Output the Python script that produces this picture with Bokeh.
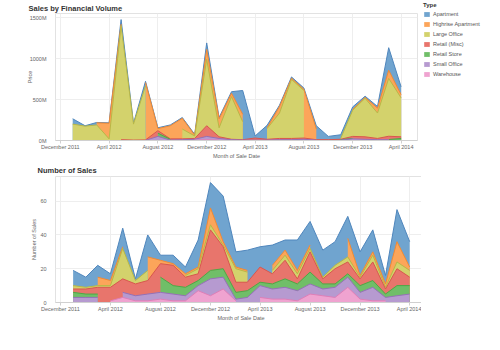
import numpy as np
import pandas as pd
from bokeh.plotting import figure
from bokeh.models import (FixedTicker, DatetimeTickFormatter, Legend, LegendItem,
                          Range1d, ColumnDataSource)
from bokeh.layouts import column, row
from bokeh.embed import file_html
from bokeh.resources import INLINE

# ---------------- data ----------------
months = ["2012-01", "2012-02", "2012-03", "2012-04", "2012-05", "2012-06", "2012-07",
          "2012-08", "2012-09", "2012-10", "2012-11", "2012-12", "2013-01", "2013-02",
          "2013-03", "2013-04", "2013-05", "2013-06", "2013-07", "2013-08", "2013-09",
          "2013-10", "2013-11", "2013-12", "2014-01", "2014-02", "2014-03", "2014-04"]

types = ["Apartment", "Highrise Apartment", "Large Office", "Retail (Misc)",
         "Retail Store", "Small Office", "Warehouse"]

# Sales by financial volume (price, millions); None = no sales that month
price_apartment = [65, 5, 5, 5, 55, 10, 15, 10, 10, 10, 10, 80, 15, 20, 290, 25, 30, 15, 15, 15,
                   40, 40, 45, 30, 15, 20, 275, 95]
price_highrise = [None, None, 25, 190, 20, None, 40, 25, 160, 130, 10, 120, 110, 40, 90, None, 10,
                  80, 15, 15, 130, None, None, 10, 10, 60, 100, 40]
price_large_office = [200, 175, 190, 20, 1390, 195, 660, None, None, 120, 30, 810, 110, 520, 220,
                      None, 130, 310, 720, 580, None, None, 10, 320, 470, 310, 705, 475]
price_retail_misc = [None, None, None, None, 10, 5, 5, 30, 5, 10, 10, 130, 20, 5, 5, 25, 10, 15,
                     15, 15, 5, 10, 5, 25, 30, 15, 40, 20]
price_retail_store = [None, None, None, None, None, None, None, 40, 10, None, None, None, None,
                      None, None, None, None, None, None, None, None, None, 5, 5, None, None, 2, 25]
price_small_office = [None, None, None, None, None, None, 2, 50, 5, 10, 10, 40, 20, 10, 5, 5, 5,
                      10, 10, 15, 5, None, 5, 20, 15, 10, 10, None]
price_warehouse = [None, None, None, None, None, None, None, None, None, None, 5, 10, 5, None,
                   None, None, None, None, None, None, None, None, None, None, None, None, None, None]

# Number of sales
count_apartment = [9, 6, 7, 4, 11, 1, 13, 3, 5, 4, 16, 15, 27, 9, 12, 12, 12, 6, 18, 14, 16, 14,
                   13, 14, 13, 5, 19, 15]
count_highrise = [None, None, 5, 3, 1, None, 8, 2, 1, 1, 1, 10, 2, 1, 1, None, 3, 3, 2, 2, None,
                  None, 11, 1, 2, 2, 12, 2]
count_large_office = [2, 1, 1, 1, 18, 2, 6, None, None, 1, 3, 3, 1, 8, 6, None, 2, 3, 3, 2, 1, 2,
                      3, 1, 4, 1, 4, 4]
count_retail_misc = [2, 3, 4, 8, 8, 7, 8, 8, 12, 6, 4, 24, 13, 6, 5, 9, 6, 11, 3, 12, 3, 9, 7, 4,
                     11, 3, 10, 5]
count_retail_store = [3, 2, 2, None, None, None, None, 9, 5, 5, 3, 5, 5, 4, 4, 2, 3, 5, 4, 7, 3, 2,
                      2, 4, 4, 2, 6, 5]
count_small_office = [3, 3, 3, None, 3, 3, 4, 4, 4, 3, 3, 10, 7, 1, 3, 7, 6, 7, 6, 6, 4, 6, 6, 4,
                      8, 2, 4, 5]
count_warehouse = [None, None, None, 1, 3, 1, 1, 2, 1, 1, 7, 4, 8, 1, None, 3, 2, 2, 1, 5, 4, 3, 9,
                   2, 1, 1, None, None]

tick_dates = ["2011-12-01", "2012-04-01", "2012-08-01", "2012-12-01",
              "2013-04-01", "2013-08-01", "2013-12-01", "2014-04-01"]
tick_labels = ["December 2011", "April 2012", "August 2012", "December 2012",
               "April 2013", "August 2013", "December 2013", "April 2014"]
price_ticks = [0, 500, 1000, 1500]
price_tick_labels = ["0M", "500M", "1000M", "1500M"]
count_ticks = [0, 20, 40, 60]

fills = ["#70A4CF", "#FCA55A", "#D3D26C", "#E8756C", "#70BE68", "#B69AD0", "#EFA3D0"]
lines = ["#4F86BD", "#F08A35", "#B9B746", "#D8574E", "#4FA845", "#9571B6", "#DE7FB7"]

FONT = "Liberation Sans"
x = pd.to_datetime(months)
tick_ms = [int(pd.Timestamp(d).value // 10**6) for d in tick_dates]


def runs(mask):
    out, start = [], None
    for i, m in enumerate(mask):
        if m and start is None:
            start = i
        if not m and start is not None:
            out.append((start, i))
            start = None
    if start is not None:
        out.append((start, len(mask)))
    return out


def draw_stack(p, series_top_first):
    arrs = [np.array([np.nan if v is None else v for v in s], dtype=float)
            for s in series_top_first]
    n = len(arrs)
    cums = [None] * n
    running = np.zeros(len(x))
    for k in range(n - 1, -1, -1):          # bottom (Warehouse) upward
        running = running + np.nan_to_num(arrs[k])
        cums[k] = running.copy()
    for k in range(n):                       # draw top series first, each from zero
        present = ~np.isnan(arrs[k])
        for s, e in runs(present):
            if e - s < 2:
                continue
            src = ColumnDataSource(dict(x=x[s:e], y=cums[k][s:e]))
            p.varea(x="x", y1=0, y2="y", source=src, fill_color=fills[k])
            p.line("x", "y", source=src, line_color=lines[k], line_width=1)


def style(p, ylabel, title, title_offset, title_standoff, ylabel_standoff):
    p.title.text = title
    p.title.text_font = FONT
    p.title.text_font_size = "7.5px"
    p.title.text_font_style = "bold"
    p.title.text_color = "#333333"
    p.title.align = "left"
    p.title.offset = title_offset
    p.title.standoff = title_standoff
    p.outline_line_color = "#e2e2e2"
    p.xgrid.grid_line_color = "#eeeeee"
    p.ygrid.grid_line_color = "#eeeeee"
    ax = p.xaxis[0]
    ax.ticker = FixedTicker(ticks=tick_ms)
    ax.formatter = DatetimeTickFormatter(days="%B %Y", months="%B %Y", years="%B %Y")
    ax.major_label_overrides = {t: l for t, l in zip(tick_ms, tick_labels)}
    ax.axis_label = "Month of Sale Date"
    ax.axis_line_color = "#d0d0d0"
    ax.major_tick_line_color = "#d0d0d0"
    ax.major_tick_out = 3
    ax.major_tick_in = 0
    ax.major_label_standoff = 0
    ax.axis_label_standoff = 0
    ay = p.yaxis[0]
    ay.axis_label = ylabel
    ay.axis_line_color = None
    ay.major_tick_line_color = None
    ay.minor_tick_line_color = None
    ay.major_label_standoff = 3
    ay.axis_label_standoff = ylabel_standoff
    for a in (ax, ay):
        a.major_label_text_font = FONT
        a.major_label_text_font_size = "5.5px"
        a.major_label_text_color = "#666666"
        a.axis_label_text_font = FONT
        a.axis_label_text_font_size = "5.5px"
        a.axis_label_text_font_style = "normal"
        a.axis_label_text_color = "#666666"


x_start = pd.Timestamp("2011-11-19")
x_end = pd.Timestamp("2014-05-12")

# ---------------- top chart ----------------
p1 = figure(frame_width=362, frame_height=127, output_backend="svg", toolbar_location=None,
            x_axis_type="datetime", x_range=Range1d(x_start, x_end), y_range=Range1d(0, 1549),
            min_border_left=55, min_border_right=4, min_border_top=13, min_border_bottom=21)
draw_stack(p1, [price_apartment, price_highrise, price_large_office, price_retail_misc,
                price_retail_store, price_small_office, price_warehouse])
style(p1, "Price", "Sales by Financial Volume", -27, 1, -6)
p1.yaxis[0].ticker = FixedTicker(ticks=price_ticks)
p1.yaxis[0].major_label_overrides = {t: l for t, l in zip(price_ticks, price_tick_labels)}

# ---------------- bottom chart ----------------
p2 = figure(frame_width=371, frame_height=126, output_backend="svg", toolbar_location=None,
            x_axis_type="datetime", x_range=Range1d(x_start, x_end), y_range=Range1d(0, 74.6),
            min_border_left=46, min_border_right=4, min_border_top=15, min_border_bottom=20)
draw_stack(p2, [count_apartment, count_highrise, count_large_office, count_retail_misc,
                count_retail_store, count_small_office, count_warehouse])
style(p2, "Number of Sales", "Number of Sales", -18, 3, 0)
p2.yaxis[0].ticker = FixedTicker(ticks=count_ticks)

# ---------------- legend panel ----------------
legend_x = [0, 1]
legend_zero = [0, 0]
pl = figure(width=79, height=90, output_backend="svg", toolbar_location=None,
            x_axis_location=None, y_axis_location=None, x_range=Range1d(0, 1),
            y_range=Range1d(0, 1), min_border=0, outline_line_color=None)
pl.xgrid.visible = False
pl.ygrid.visible = False
items = []
for k, t in enumerate(types):
    r = pl.varea(x=legend_x, y1=legend_zero, y2=legend_zero, fill_color=fills[k])
    items.append(LegendItem(label=t, renderers=[r]))
legend = Legend(items=items, location="top_left", title="Type", title_text_font=FONT,
                title_text_font_size="6px", title_text_font_style="bold",
                title_text_color="#333333", title_standoff=3,
                label_text_font=FONT, label_text_font_size="5.5px", label_text_color="#555555",
                glyph_width=7, glyph_height=6, label_height=6, label_standoff=3, spacing=4,
                padding=0, margin=2, border_line_color=None, background_fill_alpha=0)
pl.add_layout(legend, "center")

layout = row(column(p1, p2, spacing=0), pl, spacing=0)
open("out.html", "w").write(file_html(layout, INLINE))
